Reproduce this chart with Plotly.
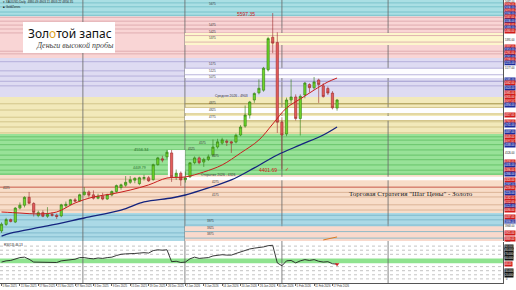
import plotly.graph_objects as go

# ---------------- data ----------------
tick_bars = [0, 4, 8, 12, 16, 20, 24, 28, 32, 36, 40, 44, 48, 52, 56, 60, 64, 68, 72]
tick_labels = ["5 Nov 2025", "11 Nov 2025", "17 Nov 2025", "21 Nov 2025", "27 Nov 2025",
               "3 Dec 2025", "9 Dec 2025", "15 Dec 2025", "19 Dec 2025", "26 Dec 2025",
               "2 Jan 2026", "8 Jan 2026", "14 Jan 2026", "20 Jan 2026", "26 Jan 2026",
               "30 Jan 2026", "5 Feb 2026", "11 Feb 2026", "17 Feb 2026"]

opens = [3930, 3980, 4017, 3998, 4105, 4127, 4187, 4140, 4047, 4070, 4042, 4056, 4050, 4045, 4122,
         4132, 4168, 4160, 4207, 4228, 4206, 4180, 4195, 4174, 4205, 4232, 4262, 4280, 4302, 4318,
         4292, 4332, 4337, 4322, 4437, 4482, 4497, 4527, 4344, 4372, 4322, 4344, 4452, 4489, 4457,
         4477, 4512, 4572, 4602, 4617, 4612, 4610, 4664, 4732, 4817, 4932, 4987, 5007, 5162, 5412,
         5372, 4762, 4672, 4932, 4955, 4790, 4970, 5050, 5025, 5085, 5040, 5020, 4985, 4870]
highs = [3995, 4030, 4025, 4112, 4148, 4195, 4228, 4150, 4085, 4088, 4112, 4075, 4062, 4138, 4155,
         4175, 4182, 4215, 4265, 4240, 4240, 4215, 4222, 4215, 4240, 4285, 4292, 4350, 4350, 4340,
         4345, 4360, 4350, 4445, 4497, 4505, 4550, 4550, 4400, 4385, 4385, 4455, 4500, 4500, 4490,
         4515, 4630, 4635, 4643, 4630, 4620, 4675, 4740, 4890, 4925, 4990, 5090, 5185, 5415, 5597.35,
         5450, 4800, 4950, 5090, 4975, 4975, 5070, 5060, 5108, 5095, 5060, 5035, 5000, 4940]
lows = [3915, 3968, 3995, 3990, 4095, 4110, 4135, 4040, 4035, 4035, 4030, 4040, 4022, 4035, 4105,
        4125, 4150, 4155, 4200, 4185, 4170, 4172, 4165, 4168, 4195, 4222, 4245, 4268, 4290, 4295,
        4280, 4315, 4305, 4315, 4430, 4455, 4480, 4305, 4320, 4275, 4300, 4335, 4440, 4440, 4420,
        4465, 4505, 4560, 4590, 4580, 4527, 4600, 4655, 4720, 4790, 4910, 4975, 4995, 5150, 5290,
        4680, 4401.69, 4655, 4905, 4775, 4660, 4945, 4990, 5010, 4910, 4950, 4970, 4860, 4850]
closes = [3982, 4017, 4002, 4105, 4127, 4187, 4142, 4072, 4070, 4042, 4056, 4050, 4040, 4130, 4134,
          4169, 4158, 4207, 4228, 4204, 4180, 4196, 4174, 4207, 4232, 4277, 4283, 4302, 4322, 4333,
          4337, 4338, 4313, 4437, 4489, 4472, 4532, 4344, 4372, 4320, 4335, 4451, 4489, 4452, 4477,
          4497, 4572, 4612, 4627, 4609, 4602, 4662, 4725, 4817, 4917, 4982, 5022, 5175, 5402, 5367,
          4762, 4664, 4932, 4955, 4790, 4960, 5062, 5026, 5070, 5050, 4958, 4985, 4872, 4932]
bars = list(range(len(opens)))

ma_red_bars = [0, 4, 8, 12, 16, 20, 24, 28, 32, 36, 40, 44, 48, 52, 56, 59, 62, 65, 68, 71, 73]
ma_red_vals = [4075, 4067, 4060, 4075, 4144, 4190, 4213, 4243, 4282, 4335, 4343, 4381, 4435, 4526,
               4626, 4748, 4871, 4940, 5008, 5070, 5100]
ma_blue_bars = [0, 2, 10, 18, 26, 31, 37, 40, 45, 50, 55, 60, 65, 70, 73]
ma_blue_vals = [3891, 3914, 3968, 4029, 4090, 4152, 4182, 4205, 4259, 4320, 4412, 4511, 4588, 4664, 4725]
ma_orange_bars = [70, 71, 72, 73]
ma_orange_vals = [3861, 3869, 3876, 3884]

rsi = [51, 54, 55, 58, 62, 63, 58, 51, 51, 50, 51, 51, 50, 54, 55, 57, 58, 62, 62, 60, 59, 61, 60, 62,
       63, 67, 70, 71, 71, 72, 73, 74, 73, 79, 81, 80, 81, 52, 53, 50, 51, 59, 63, 60, 61, 62, 66, 68,
       69, 68, 68, 72, 76, 80, 83, 85, 86, 88, 91, 92, 49, 42, 54, 55, 49, 54, 57, 55, 57, 53, 51, 52,
       47, 46]
rsi_levels = [10, 20, 30, 40, 70, 80, 90]
rsi_band = [48, 60]

# price zones (whole chart)
zone_lo = [5571, 5253, 4955, 4672, 4358, 4067, 3853]
zone_hi = [5697, 5571, 5253, 4955, 4672, 4358, 4067]
zone_fill = ["#aadfe4", "#f9d5d5", "#dedbf2", "#f2e9ba", "#98e298", "#f8ddc9", "#abd9e6"]
zone_line = ["#6fbcc5", "#d9a3a8", "#a9a3d4", "#cbbd80", "#5cbc5f", "#d4a98a", "#76b2c6"]
# zones of 2026
z26_lo = [5352, 5100, 4832, 4779, 4318, 3853]
z26_hi = [5444, 5175, 4871, 4809, 4345, 3965]
z26_fill = ["#fdf6cc", "#fdfdff", "#fdfdff", "#fdfdff", "#fdfdff", "#f9d9cc"]

level_prices = [5675, 5645, 5605, 5580, 5565, 5535, 5505, 5475, 5445, 5305, 5285,
                5225, 5155, 5115, 5075, 5040, 4903, 4855, 4800, 4765, 4725, 4680,
                4650, 4625, 4590, 4550, 4510, 4475, 4435, 4395, 4365,
                4326, 4225, 4190, 4130, 4090, 4050, 4015, 3960, 3915, 3885]
level26_prices = [5475, 5425, 5375, 5175, 5125, 5075, 4875, 4825, 4775, 3975, 3925, 3875]
red_level = 4265

label_vals = [5475, 5425, 5375, 5175, 5125, 5075, 4875, 4825, 4775,
              4575, 4525, 4475, 4275, 4175, 3975, 3925, 3875, 4225]
label_bar = [46.0, 46.0, 46.0, 46.0, 46.0, 46.0, 46.0, 46.0, 46.0,
             43.8, 41.4, 46.5, 46.5, 46.5, 45.4, 45.4, 45.4, 1.0]
top_label = 5675

tag_prices = [5682, 5659, 5636, 5613, 5590, 5567, 5536, 5506, 5483, 5460, 5391, 5337, 5314, 5291,
              5261, 5238, 5215, 5177, 5085, 5062, 5024, 4985, 4955, 4917, 4894, 4817, 4764, 4741,
              4687, 4649, 4611, 4588, 4526, 4458, 4435, 4396, 4366, 4320, 4282, 4259, 4220, 4182,
              4152, 4121, 4090, 4037, 3999, 3968, 3915, 3869]
tag_kinds = ["w", "r", "b", "r", "b", "r", "b", "r", "b", "r", "w", "r", "b", "r",
             "b", "r", "b", "w", "b", "r", "b", "r", "r", "r", "b", "r", "r", "b",
             "b", "r", "r", "b", "w", "r", "b", "r", "b", "r", "b", "r", "b", "r",
             "r", "b", "r", "r", "b", "w", "r", "r"]
ind_tag_vals = [90, 80, 70, 60, 30, 20]

month_sep = [17.7, 39.9, 61.0, 84.1]
x_range = [-0.33, 109.1]
y_range = [3853, 5697]

# ---------------- figure ----------------
fig = go.Figure()
shapes = []
for lo, hi, fc in zip(zone_lo, zone_hi, zone_fill):
    shapes.append(dict(type="rect", xref="paper", yref="y", x0=0, x1=1, y0=lo, y1=hi,
                       fillcolor=fc, line=dict(width=0), layer="below"))
for lo, hi, fc in zip(z26_lo, z26_hi, z26_fill):
    shapes.append(dict(type="rect", xref="x", yref="y", x0=month_sep[1], x1=x_range[1], y0=lo, y1=hi,
                       fillcolor=fc, line=dict(width=0), layer="below"))
# white box around the end-of-December range
shapes.append(dict(type="rect", xref="x", yref="y", x0=36.2, x1=month_sep[1], y0=4345, y1=4549,
                   fillcolor="#fdfdff", line=dict(width=0), layer="below"))


def line_color(p):
    for lo, hi, lc in zip(zone_lo, zone_hi, zone_line):
        if lo <= p < hi:
            return lc
    return "#999999"


for p in level_prices:
    shapes.append(dict(type="line", xref="paper", yref="y", x0=0, x1=1, y0=p, y1=p,
                       line=dict(color=line_color(p), width=0.8), layer="below"))
for p in level26_prices:
    shapes.append(dict(type="line", xref="x", yref="y", x0=month_sep[1], x1=x_range[1], y0=p, y1=p,
                       line=dict(color=line_color(p), width=0.8), layer="below"))
shapes.append(dict(type="line", xref="paper", yref="y", x0=0, x1=1, y0=red_level, y1=red_level,
                   line=dict(color="#c24a3a", width=0.9), layer="below"))
shapes.append(dict(type="line", xref="x", yref="y", x0=month_sep[1], x1=x_range[1], y0=4903, y1=4903,
                   line=dict(color="#a89850", width=0.9), layer="below"))

# indicator panel
shapes.append(dict(type="rect", xref="paper", yref="y2", x0=0, x1=1, y0=0, y1=100,
                   fillcolor="white", line=dict(width=0), layer="below"))
shapes.append(dict(type="rect", xref="paper", yref="y2", x0=0, x1=1, y0=rsi_band[0], y1=rsi_band[1],
                   fillcolor="#8fe38f", line=dict(width=0), layer="below"))
for lv in rsi_levels:
    shapes.append(dict(type="line", xref="paper", yref="y2", x0=0, x1=1, y0=lv, y1=lv,
                       line=dict(color="#9a9a9a", width=0.6, dash="dot"), layer="below"))
for m in month_sep:
    shapes.append(dict(type="line", xref="x", yref="paper", x0=m, x1=m, y0=0, y1=1,
                       line=dict(color="#666666", width=0.8), layer="below"))
# logo box
shapes.append(dict(type="rect", xref="paper", yref="paper", x0=23 / 503, x1=115 / 503,
                   y0=1 - 53 / 283, y1=1 - 22 / 283, fillcolor="white", line=dict(width=0), layer="above"))

fig.add_trace(go.Candlestick(
    x=bars, open=opens, high=highs, low=lows, close=closes,
    increasing=dict(fillcolor="#6fd62a", line=dict(color="#2d7a10", width=0.6)),
    decreasing=dict(fillcolor="#e35b5b", line=dict(color="#9a2a2a", width=0.6)),
    whiskerwidth=0, showlegend=False, hoverinfo="skip", xaxis="x", yaxis="y"))
fig.add_trace(go.Scatter(x=ma_red_bars, y=ma_red_vals, mode="lines", line=dict(color="#c81e1e", width=1, shape="spline"),
                         showlegend=False, hoverinfo="skip", yaxis="y"))
fig.add_trace(go.Scatter(x=ma_blue_bars, y=ma_blue_vals, mode="lines", line=dict(color="#14237e", width=1.3, shape="spline"),
                         showlegend=False, hoverinfo="skip", yaxis="y"))
fig.add_trace(go.Scatter(x=ma_orange_bars, y=ma_orange_vals, mode="lines", line=dict(color="#e07a20", width=1),
                         showlegend=False, hoverinfo="skip", yaxis="y"))
fig.add_trace(go.Scatter(x=bars, y=rsi, mode="lines", line=dict(color="#222222", width=0.9),
                         showlegend=False, hoverinfo="skip", yaxis="y2"))
fig.add_trace(go.Scatter(x=[bars[-1]], y=[rsi[-1]], mode="markers",
                         marker=dict(symbol="triangle-down", size=4, color="#d02020"),
                         showlegend=False, hoverinfo="skip", yaxis="y2"))

ann = []
small = dict(family="Liberation Sans", size=3, color="#333333")
for v, b in zip(label_vals, label_bar):
    ann.append(dict(x=b, y=v, xref="x", yref="y", text=str(v), showarrow=False,
                    xanchor="center", yanchor="bottom", font=small))
ann.append(dict(x=46.0, y=y_range[1], xref="x", yref="y", text=str(top_label), showarrow=False,
                xanchor="center", yanchor="top", font=small))
ann.append(dict(x=50, y=4903, xref="x", yref="y", text="Средняя 2026 - 4903", showarrow=False,
                xanchor="center", yanchor="bottom", yshift=4, font=dict(family="Liberation Sans", size=3.4, color="#333")))
ann.append(dict(x=47, y=4326, xref="x", yref="y", text="Открытие 2026 - 4326", showarrow=False,
                xanchor="center", yanchor="bottom", font=dict(family="Liberation Sans", size=3.4, color="#333")))
ann.append(dict(x=53.2, y=5597.35, xref="x", yref="y", text="5597.35", showarrow=False, yshift=-1,
                xanchor="center", yanchor="middle", font=dict(family="Liberation Sans", size=5, color="#d01818")))
ann.append(dict(x=58.0, y=4401.69, xref="x", yref="y", text="4401.69", showarrow=False, yshift=-1,
                xanchor="center", yanchor="middle", font=dict(family="Liberation Sans", size=5, color="#d01818")))
ann.append(dict(x=62.1, y=4401.69, xref="x", yref="y", text="✓", showarrow=False,
                xanchor="center", yanchor="middle", font=dict(family="DejaVu Sans", size=5, color="#d01818")))
ann.append(dict(x=30.4, y=4556.34, xref="x", yref="y", text="4556.34", showarrow=False,
                xanchor="center", yanchor="middle", font=dict(family="Liberation Sans", size=4, color="#1f6f1f")))
ann.append(dict(x=30.1, y=4409.79, xref="x", yref="y", text="4409.79", showarrow=False,
                xanchor="center", yanchor="middle", font=dict(family="Liberation Sans", size=3.5, color="#1f6f1f")))

# logo
ann.append(dict(x=70 / 503, y=1 - 34 / 283, xref="paper", yref="paper", showarrow=False,
                xanchor="center", yanchor="middle",
                text='Зол<span style="color:#e0a21a">о</span>той запас',
                font=dict(family="Noto Sans", size=12, color="#111111")))
ann.append(dict(x=75 / 503, y=1 - 45.5 / 283, xref="paper", yref="paper", showarrow=False,
                xanchor="center", yanchor="middle",
                text="<i>Деньги высокой пробы</i>",
                font=dict(family="Liberation Serif", size=8, color="#444444")))
ann.append(dict(x=411 / 503, y=1 - 194 / 283, xref="paper", yref="paper", showarrow=False,
                xanchor="center", yanchor="middle",
                text='Торговая Стратегия "Шаг Цены" - Золото',
                font=dict(family="Liberation Serif", size=7, color="#222222")))
# header
ann.append(dict(x=1 / 503, y=1 - 2.5 / 283, xref="paper", yref="paper", showarrow=False,
                xanchor="left", yanchor="middle",
                text="▾ XAUUSD,Daily  4880.49 4903.11 4803.22 4856.35",
                font=dict(family="Liberation Sans", size=3, color="#222")))
ann.append(dict(x=1 / 503, y=1 - 7.5 / 283, xref="paper", yref="paper", showarrow=False,
                xanchor="left", yanchor="middle",
                text="■ GoldZones", font=dict(family="Liberation Sans", size=3, color="#222")))
ann.append(dict(x=2 / 503, y=1 - 244.5 / 283, xref="paper", yref="paper", showarrow=False,
                xanchor="left", yanchor="middle",
                text="RSI(13) 46.13", font=dict(family="Liberation Sans", size=3, color="#222")))

# right axis price tags
kind_bg = {"r": "#d11a1a", "b": "#1c2a9c", "w": "#ffffff"}
kind_fg = {"r": "#ffffff", "b": "#ffffff", "w": "#111111"}
for p, k in zip(tag_prices, tag_kinds):
    ann.append(dict(x=1, y=p, xref="paper", yref="y", text=f"{p:.2f}", showarrow=False,
                    xanchor="left", yanchor="middle", xshift=1, bgcolor=kind_bg[k], borderpad=0,
                    font=dict(family="Liberation Sans", size=2.6, color=kind_fg[k])))
for v in ind_tag_vals:
    ann.append(dict(x=1, y=v, xref="paper", yref="y2", text=f"{v:.3f}", showarrow=False,
                    xanchor="left", yanchor="middle", xshift=1, yshift=-0.8 if v == 90 else 0,
                    bgcolor="#111111", borderpad=0,
                    font=dict(family="Liberation Sans", size=2.6, color="white")))
ann.append(dict(x=1, y=rsi[-1], xref="paper", yref="y2", text=f"{rsi[-1]:.2f}", showarrow=False,
                xanchor="left", yanchor="middle", xshift=1, bgcolor="#d11a1a", borderpad=0,
                font=dict(family="Liberation Sans", size=2.6, color="white")))
ann.append(dict(x=1, y=100, xref="paper", yref="y2", text="100", showarrow=False, yanchor="middle",
                xanchor="left", xshift=1, yshift=0.5, font=dict(family="Liberation Sans", size=2.4, color="#111")))
ann.append(dict(x=1, y=0, xref="paper", yref="y2", text="0", showarrow=False, yanchor="bottom",
                xanchor="left", xshift=1, font=dict(family="Liberation Sans", size=2.6, color="#111")))

fig.update_layout(
    width=516, height=290, margin=dict(l=0, r=13, t=0, b=7),
    paper_bgcolor="white", plot_bgcolor="white",
    shapes=shapes, annotations=ann, showlegend=False,
    xaxis=dict(domain=[0, 1], range=x_range, anchor="y2", tickmode="array", tickvals=tick_bars,
               ticktext=tick_labels, tickfont=dict(family="Liberation Sans", size=2.8, color="#333"),
               tickangle=0, ticks="outside", ticklen=2, tickcolor="#666", ticklabelposition="outside right",
               showgrid=False, zeroline=False, showline=True, linecolor="#555", linewidth=0.8,
               rangeslider=dict(visible=False)),
    yaxis=dict(domain=[42 / 283, 1], range=y_range, side="right", anchor="x", showticklabels=False,
               showgrid=False, zeroline=False, showline=True, linecolor="#555", linewidth=0.8),
    yaxis2=dict(domain=[0, 41 / 283], range=[0, 100], side="right", anchor="x", showticklabels=False,
                showgrid=False, zeroline=False, showline=True, linecolor="#555", linewidth=0.8),
)
fig.write_html("out.html")
